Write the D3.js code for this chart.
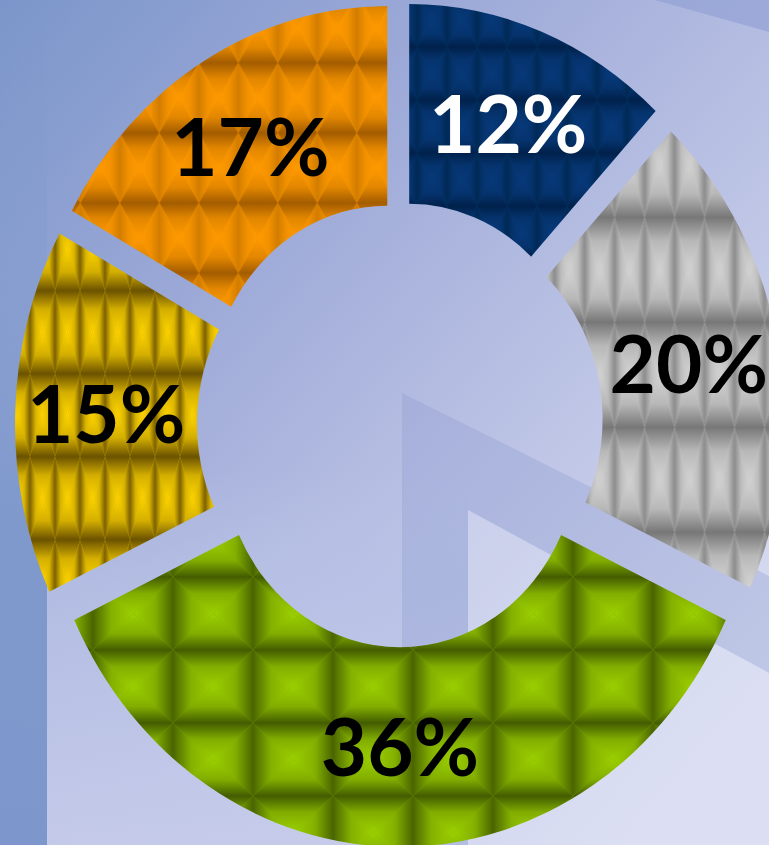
<!DOCTYPE html>
<html>
<head>
<meta charset="utf-8">
<script src="https://cdn.jsdelivr.net/npm/d3@7"></script>
<style>
  html, body { margin: 0; padding: 0; overflow: hidden; }
  svg { display: block; }
</style>
</head>
<body>
<svg id="donut" width="769" height="845"></svg>
<script>
// slice data, clockwise from 12 o'clock
const categories = ["navy", "gray", "green", "yellow", "orange"];
const values = [12, 20, 36, 15, 17];
const labels = ["12%", "20%", "36%", "15%", "17%"];

const svg = d3.select("svg#donut");
const width = +svg.attr("width");
const height = +svg.attr("height");
const cx = 400;
const cy = 424.5;
const sy = 1.097; // chart is a little stretched vertically
const outerR = 360;
const innerR = 178;
const explode = 25; // every slice pulled out from the centre

// tile texture for each slice: [w, h, x0, y0, light, dark horiz edge, dark vert edge]
const tiles = {
  navy: [30, 53, 8, 19, "#07397a", "#00214b", "#002955"],
  gray: [30, 105, 10, 8, "#d4d4d4", "#777777", "#8c8c8c"],
  green: [80, 73, 13, 52, "#9cd000", "#435c00", "#4a6500"],
  yellow: [25, 83, 5, 33, "#ffd500", "#6b5200", "#7d6200"],
  orange: [39.5, 70, 9, 12, "#ff9a00", "#a35c00", "#d27c00"]
};
const labelColor = { navy: "#ffffff" };

const defs = svg.append("defs");

// background gradient
const bg = defs
  .append("linearGradient")
  .attr("id", "bg")
  .attr("gradientUnits", "userSpaceOnUse")
  .attr("x1", 0)
  .attr("y1", 0)
  .attr("x2", width)
  .attr("y2", height * 0.8);
[
  [0, "#7b96ca"],
  [0.35, "#9eaad8"],
  [0.6, "#b6bee2"],
  [1, "#dadef2"]
].forEach((s) => bg.append("stop").attr("offset", s[0]).attr("stop-color", s[1]));

// lighter lower-left area
const low = defs
  .append("linearGradient")
  .attr("id", "low")
  .attr("x1", 0)
  .attr("y1", 0)
  .attr("x2", 0)
  .attr("y2", 1);
low.append("stop").attr("offset", 0).attr("stop-color", "#b8c2e6").attr("stop-opacity", 0);
low.append("stop").attr("offset", 0.3).attr("stop-color", "#b8c2e6").attr("stop-opacity", 0.7);
low.append("stop").attr("offset", 1).attr("stop-color", "#c6cbea").attr("stop-opacity", 0.9);

// dark strip down the left side, fading out towards the top
const strip = defs
  .append("linearGradient")
  .attr("id", "strip")
  .attr("x1", 0)
  .attr("y1", 0)
  .attr("x2", 0)
  .attr("y2", 1);
strip.append("stop").attr("offset", 0).attr("stop-color", "#7b97cb").attr("stop-opacity", 0);
strip.append("stop").attr("offset", 0.3).attr("stop-color", "#7b97cb").attr("stop-opacity", 0.3);
strip.append("stop").attr("offset", 0.62).attr("stop-color", "#7b97cb").attr("stop-opacity", 0.9);
strip.append("stop").attr("offset", 1).attr("stop-color", "#7d97cc").attr("stop-opacity", 1);

function addTile(id, t) {
  const [w, h, x0, y0, light, darkH, darkV] = t;
  const hh = h / sy; // pattern lives inside the stretched group
  const grad = (gid, x1, y1, x2, y2, dark) => {
    const g = defs
      .append("linearGradient")
      .attr("id", gid)
      .attr("x1", x1)
      .attr("y1", y1)
      .attr("x2", x2)
      .attr("y2", y2);
    g.append("stop").attr("offset", 0).attr("stop-color", dark);
    g.append("stop").attr("offset", 0.45).attr("stop-color", d3.interpolateRgb(dark, light)(0.7));
    g.append("stop").attr("offset", 1).attr("stop-color", light);
  };
  grad(id + "-t", 0, 0, 0, 1, darkH);
  grad(id + "-b", 0, 1, 0, 0, darkH);
  grad(id + "-l", 0, 0, 1, 0, darkV);
  grad(id + "-r", 1, 0, 0, 0, darkV);

  const p = defs
    .append("pattern")
    .attr("id", id)
    .attr("patternUnits", "userSpaceOnUse")
    .attr("x", x0)
    .attr("y", y0 / sy)
    .attr("width", w)
    .attr("height", hh);
  p.append("rect").attr("width", w).attr("height", hh).attr("fill", d3.interpolateRgb(darkV, light)(0.6));
  const m = [w / 2, hh / 2];
  p.append("path").attr("d", `M0,0L${w},0L${m[0]},${m[1]}Z`).attr("fill", `url(#${id}-t)`);
  p.append("path").attr("d", `M0,${hh}L${w},${hh}L${m[0]},${m[1]}Z`).attr("fill", `url(#${id}-b)`);
  p.append("path").attr("d", `M0,0L0,${hh}L${m[0]},${m[1]}Z`).attr("fill", `url(#${id}-l)`);
  p.append("path").attr("d", `M${w},0L${w},${hh}L${m[0]},${m[1]}Z`).attr("fill", `url(#${id}-r)`);
}
categories.forEach((c) => addTile("tile-" + c, tiles[c]));

// background
svg.append("rect").attr("width", width).attr("height", height).attr("fill", "url(#bg)");
svg.append("rect").attr("x", 47).attr("y", 470).attr("width", 421).attr("height", height - 470).attr("fill", "url(#low)");
svg.append("rect").attr("x", 0).attr("y", 0).attr("width", 47).attr("height", height).attr("fill", "url(#strip)");
svg
  .append("polygon")
  .attr("points", "402,393 769,576 769,673 468,510 468,845 402,845")
  .attr("fill", "#8e9dd2")
  .attr("opacity", 0.35);
svg
  .append("polygon")
  .attr("points", "468,510 769,673 769,845 468,845")
  .attr("fill", "#dfe2f4")
  .attr("opacity", 0.4);
svg
  .append("polygon")
  .attr("points", "655,0 769,0 769,32")
  .attr("fill", "#8d9fd3")
  .attr("opacity", 0.6);

// donut
const pie = d3.pie().sort(null).value((d) => d.value);
const arcs = pie(categories.map((c, i) => ({ name: c, value: values[i], label: labels[i] })));

const arc = d3.arc().innerRadius(innerR).outerRadius(outerR);

// offset of an exploded slice along its middle angle
function shift(d) {
  const a = (d.startAngle + d.endAngle) / 2;
  return [explode * Math.sin(a), -explode * Math.cos(a)];
}

const donut = svg
  .append("g")
  .attr("transform", `translate(${cx},${cy}) scale(1,${sy})`);

donut
  .selectAll("path.slice")
  .data(arcs)
  .join("path")
  .attr("class", "slice")
  .attr("transform", (d) => `translate(${shift(d)})`)
  .attr("d", arc)
  .attr("fill", (d) => `url(#tile-${d.data.name})`);

// labels
svg
  .selectAll("text.label")
  .data(arcs)
  .join("text")
  .attr("class", "label")
  .attr("x", (d) => cx + arc.centroid(d)[0] + shift(d)[0])
  .attr("y", (d) => cy + (arc.centroid(d)[1] + shift(d)[1]) * sy)
  .attr("dy", "0.36em")
  .attr("text-anchor", "middle")
  .style("font-family", "Lato, 'Noto Sans', sans-serif")
  .style("font-weight", "bold")
  .style("font-size", "80px")
  .attr("fill", (d) => labelColor[d.data.name] || "#000000")
  .text((d) => d.data.label);
</script>
</body>
</html>
